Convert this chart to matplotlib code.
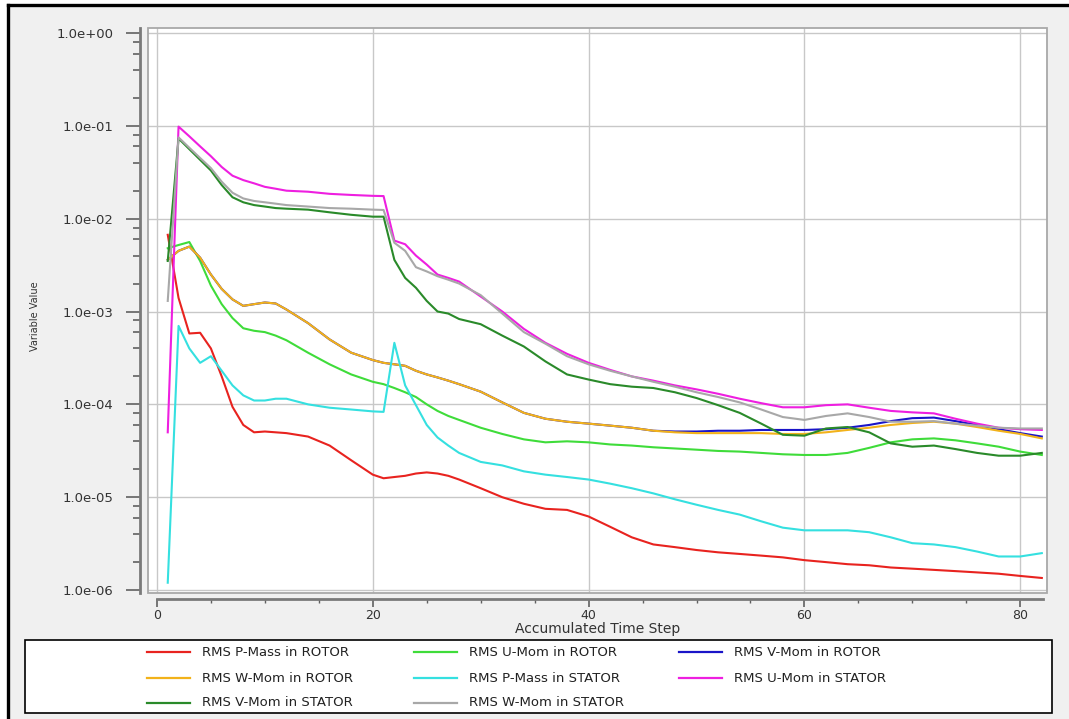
import matplotlib
matplotlib.use("Agg")
import matplotlib.pyplot as plt
from matplotlib.patches import Rectangle
from matplotlib.lines import Line2D
from matplotlib.ticker import FixedLocator, MultipleLocator, FuncFormatter, NullFormatter

plt.rcParams['font.family'] = ['DejaVu Sans']

# ---- data -------------------------------------------------------------
steps = [1, 2, 3, 4, 5, 6, 7, 8, 9, 10, 11, 12, 14, 16, 18, 20, 21, 22, 23, 24,
         25, 26, 27, 28, 30, 32, 34, 36, 38, 40, 42, 44, 46, 48, 50, 52, 54, 56,
         58, 60, 62, 64, 66, 68, 70, 72, 74, 76, 78, 80, 82]

p_mass_rotor = [6.7e-3, 1.4e-3, 5.8e-4, 5.9e-4, 4.0e-4, 2.0e-4, 9.4e-5, 6.0e-5, 5.0e-5, 5.1e-5,
                5.0e-5, 4.9e-5, 4.5e-5, 3.6e-5, 2.5e-5, 1.75e-5, 1.6e-5, 1.65e-5, 1.7e-5, 1.8e-5,
                1.85e-5, 1.8e-5, 1.7e-5, 1.55e-5, 1.25e-5, 1.0e-5, 8.5e-6, 7.5e-6, 7.3e-6, 6.2e-6,
                4.8e-6, 3.7e-6, 3.1e-6, 2.9e-6, 2.7e-6, 2.55e-6, 2.45e-6, 2.35e-6, 2.25e-6, 2.1e-6,
                2.0e-6, 1.9e-6, 1.85e-6, 1.75e-6, 1.7e-6, 1.65e-6, 1.6e-6, 1.55e-6, 1.5e-6, 1.42e-6,
                1.35e-6]

u_mom_rotor = [4.8e-3, 5.2e-3, 5.6e-3, 3.5e-3, 1.9e-3, 1.2e-3, 8.5e-4, 6.6e-4, 6.2e-4, 6.0e-4,
               5.5e-4, 4.9e-4, 3.6e-4, 2.7e-4, 2.1e-4, 1.75e-4, 1.65e-4, 1.5e-4, 1.35e-4, 1.2e-4,
               1.0e-4, 8.5e-5, 7.5e-5, 6.8e-5, 5.6e-5, 4.8e-5, 4.2e-5, 3.9e-5, 4.0e-5, 3.9e-5,
               3.7e-5, 3.6e-5, 3.45e-5, 3.35e-5, 3.25e-5, 3.15e-5, 3.1e-5, 3.0e-5, 2.9e-5, 2.85e-5,
               2.85e-5, 3.0e-5, 3.4e-5, 3.9e-5, 4.2e-5, 4.3e-5, 4.1e-5, 3.8e-5, 3.5e-5, 3.1e-5,
               2.85e-5]

v_mom_rotor = [3.6e-3, 4.5e-3, 5.0e-3, 3.8e-3, 2.5e-3, 1.75e-3, 1.35e-3, 1.15e-3, 1.2e-3, 1.25e-3,
               1.22e-3, 1.05e-3, 7.5e-4, 5.0e-4, 3.6e-4, 3.0e-4, 2.8e-4, 2.7e-4, 2.6e-4, 2.3e-4,
               2.1e-4, 1.95e-4, 1.8e-4, 1.65e-4, 1.37e-4, 1.05e-4, 8.1e-5, 7.0e-5, 6.5e-5, 6.2e-5,
               5.9e-5, 5.6e-5, 5.2e-5, 5.1e-5, 5.1e-5, 5.2e-5, 5.2e-5, 5.3e-5, 5.3e-5, 5.3e-5,
               5.4e-5, 5.6e-5, 6.0e-5, 6.6e-5, 7.1e-5, 7.2e-5, 6.6e-5, 6.0e-5, 5.4e-5, 4.9e-5,
               4.5e-5]

w_mom_rotor = [3.6e-3, 4.5e-3, 5.0e-3, 3.8e-3, 2.5e-3, 1.75e-3, 1.35e-3, 1.15e-3, 1.2e-3, 1.25e-3,
               1.22e-3, 1.05e-3, 7.5e-4, 5.0e-4, 3.6e-4, 3.0e-4, 2.8e-4, 2.7e-4, 2.6e-4, 2.3e-4,
               2.1e-4, 1.95e-4, 1.8e-4, 1.65e-4, 1.37e-4, 1.05e-4, 8.1e-5, 7.0e-5, 6.5e-5, 6.2e-5,
               5.9e-5, 5.6e-5, 5.2e-5, 5.0e-5, 4.9e-5, 4.9e-5, 4.9e-5, 4.9e-5, 4.8e-5, 4.8e-5,
               5.0e-5, 5.3e-5, 5.6e-5, 6.0e-5, 6.3e-5, 6.5e-5, 6.2e-5, 5.7e-5, 5.2e-5, 4.8e-5,
               4.3e-5]

p_mass_stator = [1.2e-6, 7.0e-4, 4.0e-4, 2.8e-4, 3.3e-4, 2.3e-4, 1.6e-4, 1.25e-4, 1.1e-4, 1.1e-4,
                 1.15e-4, 1.15e-4, 1.0e-4, 9.2e-5, 8.8e-5, 8.4e-5, 8.3e-5, 4.6e-4, 1.6e-4, 9.8e-5,
                 6.0e-5, 4.4e-5, 3.6e-5, 3.0e-5, 2.4e-5, 2.2e-5, 1.9e-5, 1.75e-5, 1.65e-5, 1.55e-5,
                 1.4e-5, 1.25e-5, 1.1e-5, 9.5e-6, 8.3e-6, 7.3e-6, 6.5e-6, 5.5e-6, 4.7e-6, 4.4e-6,
                 4.4e-6, 4.4e-6, 4.2e-6, 3.7e-6, 3.2e-6, 3.1e-6, 2.9e-6, 2.6e-6, 2.3e-6, 2.3e-6,
                 2.5e-6]

u_mom_stator = [5.0e-5, 9.8e-2, 7.7e-2, 6.0e-2, 4.7e-2, 3.6e-2, 2.9e-2, 2.6e-2, 2.4e-2, 2.2e-2,
                2.1e-2, 2.0e-2, 1.95e-2, 1.85e-2, 1.8e-2, 1.76e-2, 1.75e-2, 5.8e-3, 5.3e-3, 4.0e-3,
                3.2e-3, 2.5e-3, 2.3e-3, 2.1e-3, 1.45e-3, 1.0e-3, 6.5e-4, 4.6e-4, 3.5e-4, 2.8e-4,
                2.35e-4, 2.0e-4, 1.8e-4, 1.6e-4, 1.45e-4, 1.3e-4, 1.15e-4, 1.03e-4, 9.3e-5, 9.3e-5,
                9.8e-5, 1.0e-4, 9.2e-5, 8.5e-5, 8.2e-5, 8.0e-5, 7.0e-5, 6.2e-5, 5.6e-5, 5.4e-5,
                5.3e-5]

v_mom_stator = [3.5e-3, 7.3e-2, 5.6e-2, 4.3e-2, 3.3e-2, 2.3e-2, 1.7e-2, 1.5e-2, 1.4e-2, 1.35e-2,
                1.3e-2, 1.28e-2, 1.25e-2, 1.17e-2, 1.1e-2, 1.05e-2, 1.05e-2, 3.6e-3, 2.3e-3, 1.8e-3,
                1.3e-3, 1.0e-3, 9.5e-4, 8.3e-4, 7.3e-4, 5.5e-4, 4.2e-4, 2.9e-4, 2.1e-4, 1.85e-4,
                1.65e-4, 1.55e-4, 1.5e-4, 1.35e-4, 1.17e-4, 9.8e-5, 8.1e-5, 6.2e-5, 4.7e-5, 4.6e-5,
                5.5e-5, 5.7e-5, 5.0e-5, 3.8e-5, 3.5e-5, 3.6e-5, 3.3e-5, 3.0e-5, 2.8e-5, 2.8e-5,
                3.0e-5]

w_mom_stator = [1.3e-3, 7.5e-2, 5.8e-2, 4.5e-2, 3.5e-2, 2.5e-2, 1.9e-2, 1.65e-2, 1.55e-2, 1.5e-2,
                1.45e-2, 1.4e-2, 1.35e-2, 1.3e-2, 1.28e-2, 1.25e-2, 1.24e-2, 5.5e-3, 4.5e-3, 3.0e-3,
                2.7e-3, 2.4e-3, 2.2e-3, 2.0e-3, 1.5e-3, 9.5e-4, 6.0e-4, 4.5e-4, 3.3e-4, 2.7e-4,
                2.3e-4, 2.0e-4, 1.75e-4, 1.55e-4, 1.35e-4, 1.2e-4, 1.05e-4, 8.8e-5, 7.3e-5, 6.8e-5,
                7.5e-5, 8.0e-5, 7.3e-5, 6.5e-5, 6.5e-5, 6.6e-5, 6.2e-5, 5.9e-5, 5.6e-5, 5.5e-5,
                5.5e-5]

series_labels = ["RMS P-Mass in ROTOR", "RMS U-Mom in ROTOR", "RMS V-Mom in ROTOR",
                 "RMS W-Mom in ROTOR", "RMS P-Mass in STATOR", "RMS U-Mom in STATOR",
                 "RMS V-Mom in STATOR", "RMS W-Mom in STATOR"]
series_values = [p_mass_rotor, u_mom_rotor, v_mom_rotor, w_mom_rotor,
                 p_mass_stator, u_mom_stator, v_mom_stator, w_mom_stator]
series_colors = ["#e8231f", "#3fdc3a", "#1a14c8", "#f2b21a",
                 "#35e0e0", "#ee1fe0", "#2a8a2a", "#a8a8a8"]

x_major = [0, 20, 40, 60, 80]
y_major = [1e-6, 1e-5, 1e-4, 1e-3, 1e-2, 1e-1, 1e0]
y_minor_subs = [2, 4, 6, 8]

# ---- figure -----------------------------------------------------------
W, H = 1069, 719
fig = plt.figure(figsize=(W / 100, H / 100), dpi=100)
fig.patch.set_facecolor("white")

# window background and frame
fig.add_artist(Rectangle((9 / W, 0), 1, 1 - 6 / H, transform=fig.transFigure,
                         facecolor="#f0f0f0", edgecolor="none", zorder=-10))
fig.add_artist(Line2D([8 / W, 1], [1 - 5 / H, 1 - 5 / H], transform=fig.transFigure,
                      color="black", lw=2.4))
fig.add_artist(Line2D([8 / W, 8 / W], [0, 1 - 5 / H], transform=fig.transFigure,
                      color="black", lw=2.4))

ax = fig.add_axes([148 / W, 1 - 593 / H, 899 / W, 565 / H])
ax.set_facecolor("white")

for vals, col, lab in zip(series_values, series_colors, series_labels):
    ax.plot(steps, vals, color=col, lw=1.5, label=lab, solid_joinstyle="round")

ax.set_yscale("log")
ax.set_ylim(9.3e-7, 1.13)
ax.set_xlim(-0.83, 82.48)

# plot-area border
ax.add_patch(Rectangle((0, 0), 1, 1, transform=ax.transAxes, fill=False,
                       edgecolor="#a8a8a8", lw=1.3, clip_on=False, zorder=5))

for s in ("top", "right"):
    ax.spines[s].set_visible(False)
ax.spines["left"].set_position(("outward", 6))
ax.spines["bottom"].set_position(("outward", 4.5))
for s in ("left", "bottom"):
    ax.spines[s].set_color("#7a7a7a")
    ax.spines[s].set_linewidth(2.0)
ax.spines["bottom"].set_bounds(0, 82.1)

# ticks (only inside the visible range)
y_minor = [d * s for d in y_major[:-1] for s in y_minor_subs]
ax.yaxis.set_major_locator(FixedLocator(y_major))
ax.yaxis.set_minor_locator(FixedLocator(y_minor))
ax.yaxis.set_major_formatter(FuncFormatter(lambda v, p: "%.1e" % v))
ax.yaxis.set_minor_formatter(NullFormatter())
ax.xaxis.set_major_locator(FixedLocator(x_major))
ax.xaxis.set_minor_locator(FixedLocator([v for v in range(5, 85, 5) if v % 20]))
ax.xaxis.set_minor_formatter(NullFormatter())

ax.tick_params(axis="y", which="major", direction="out", length=10, width=1.2,
               color="#606060", pad=9, labelsize=9.5, labelcolor="#333333")
ax.tick_params(axis="y", which="minor", direction="out", length=5, width=1.2,
               color="#606060")
ax.tick_params(axis="x", which="major", direction="out", length=6, width=1.2,
               color="#606060", pad=1, labelsize=9, labelcolor="#333333")
ax.tick_params(axis="x", which="minor", direction="out", length=3, width=1.0,
               color="#606060")

ax.grid(True, which="major", color="#c8c8c8", lw=1.0)
ax.set_axisbelow(True)

ax.set_xlabel("Accumulated Time Step", fontsize=10, color="#333333")
ax.xaxis.set_label_coords(0.5, (593 - 629) / 565)
ax.xaxis.label.set_va("center")
fig.text(35 / W, 1 - 316 / H, "Variable Value", rotation=90, fontsize=7,
         color="#333333", ha="center", va="center")

# legend panel
fig.add_artist(Rectangle((25 / W, 1 - 713 / H), 1027 / W, 73 / H,
                         transform=fig.transFigure, facecolor="white",
                         edgecolor="black", lw=1.2, zorder=2))
col_x = [147, 414, 679]
row_y = [652, 678, 703]
for i, (lab, col) in enumerate(zip(series_labels, series_colors)):
    r, c = divmod(i, 3)
    x0, y0 = col_x[c], row_y[r]
    fig.add_artist(Line2D([x0 / W, (x0 + 43) / W], [1 - y0 / H, 1 - y0 / H],
                          transform=fig.transFigure, color=col, lw=1.6, zorder=3))
    fig.text((x0 + 55) / W, 1 - y0 / H, lab, fontsize=9.5, color="#222222",
             ha="left", va="center", zorder=3)

fig.savefig("out.png", dpi=100)
